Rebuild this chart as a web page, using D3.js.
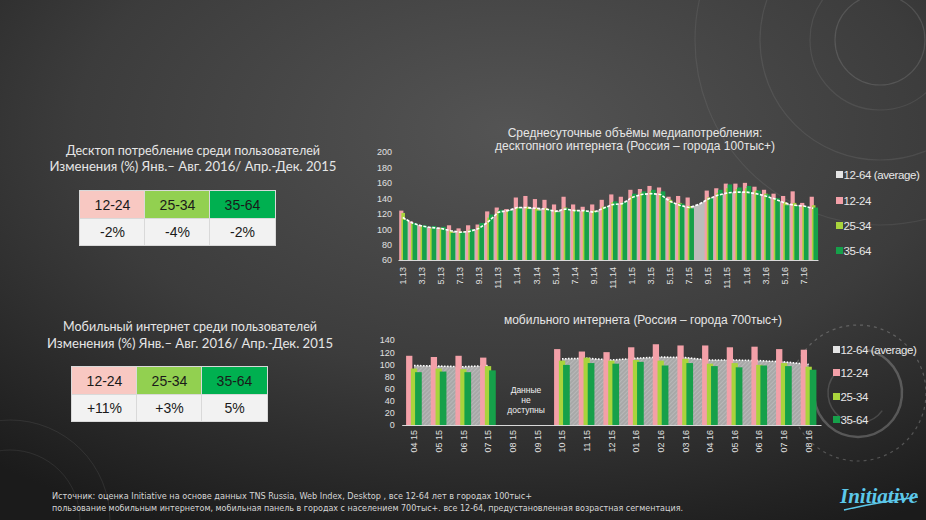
<!DOCTYPE html>
<html><head><meta charset="utf-8">
<script src="https://cdn.jsdelivr.net/npm/d3@7"></script>
<style>html,body{margin:0;padding:0;background:#2a2a2a;} svg{display:block}</style>
</head><body><svg id="c" width="926" height="520"></svg>
<script>
// ---------- DATA ----------
const desktopMonths = ["1.13","2.13","3.13","4.13","5.13","6.13","7.13","8.13","9.13","10.13","11.13","12.13",
  "1.14","2.14","3.14","4.14","5.14","6.14","7.14","8.14","9.14","10.14","11.14","12.14",
  "1.15","2.15","3.15","4.15","5.15","6.15","7.15","8.15","9.15","10.15","11.15","12.15",
  "1.16","2.16","3.16","4.16","5.16","6.16","7.16","8.16"];
const desktopTickLabels = ["1.13","3.13","5.13","7.13","9.13","11.13","1.14","3.14","5.14","7.14","9.14","11.14",
  "1.15","3.15","5.15","7.15","9.15","11.15","1.16","3.16","5.16","7.16"];
const desktopAvg  = [115,108,104,102,101,98,96,97,101,110,122,124,128,128,127,126,123,126,124,124,122,127,132,133,
  141,145,146,145,136,131,128,132,139,144,147,148,148,146,143,139,134,131,130,127];
const desktop1224 = [124,110,105,102,102,105,101,105,106,123,128,126,141,143,139,138,132,142,132,129,132,138,145,142,
  151,152,156,154,142,143,141,null,150,153,159,159,160,155,151,146,143,149,134,142];
const desktop2534 = [121,108,104,101,101,98,97,99,103,115,123,123,128,129,127,127,124,128,125,124,124,129,135,134,
  143,147,149,147,138,134,130,null,141,147,153,152,153,150,146,140,135,134,130,131];
const desktop3564 = [112,108,105,104,103,95,96,100,108,119,125,124,127,126,124,126,122,127,124,124,122,129,136,135,
  146,149,151,149,134,133,127,null,140,151,158,154,156,150,145,140,131,130,129,128];
const desktopYTicks = [60,80,100,120,140,160,180,200];

const mobileMonths = ["04 15","05 15","06 15","07 15","08 15","09 15","10 15","11 15","12 15",
  "01 16","02 16","03 16","04 16","05 16","06 16","07 16","08 16"];
const mobileAvg  = [98,97,96,98,null,null,109,110,107,110,112,111,107,107,106,104,100];
const mobile1224 = [114,112,114,111,null,null,125,121,120,128,133,131,131,128,129,125,124];
const mobile2534 = [93,93,92,97,null,null,106,111,106,107,106,109,101,102,99,102,96];
const mobile3564 = [87,88,87,90,null,null,99,102,101,104,98,102,97,95,98,97,91];
const mobileYTicks = [0,20,40,60,80,100,120,140];

const seriesNames = ["12-64 (average)","12-24","25-34","35-64"];
const tableHead = ["12-24","25-34","35-64"];
const desktopChange = ["-2%","-4%","-2%"];
const mobileChange = ["+11%","+3%","5%"];

// ---------- STYLE ----------
const C = {pink:"#f3a0a8", lg:"#a9d43c", green:"#16a04a", avg:"#bcbcbc", text:"#e8e8e8"};
const headFill = ["#f8c8c2","#92d050","#00b050"];

const svg = d3.select("#c");
const defs = svg.append("defs");
const bg = defs.append("radialGradient").attr("id","bg").attr("cx","0.55").attr("cy","0.25").attr("r","0.85");
bg.append("stop").attr("offset","0").attr("stop-color","#545454");
bg.append("stop").attr("offset","0.55").attr("stop-color","#3c3c3c");
bg.append("stop").attr("offset","1").attr("stop-color","#1b1b1b");
const hatch = defs.append("pattern").attr("id","hatch").attr("patternUnits","userSpaceOnUse")
  .attr("width",3).attr("height",3).attr("patternTransform","rotate(45)");
hatch.append("rect").attr("width",3).attr("height",3).attr("fill","#a8a8a8");
hatch.append("line").attr("x1",0).attr("y1",0).attr("x2",0).attr("y2",3).attr("stroke","#c4c4c4").attr("stroke-width",1.2);

svg.append("rect").attr("width",926).attr("height",520).attr("fill","url(#bg)");

// decorations
const deco = svg.append("g").attr("fill","none");
[[880,40,45,0.12],[880,40,70,0.08],[880,40,120,0.08],[880,40,185,0.07]].forEach(([cx,cy,r,o])=>
  deco.append("circle").attr("cx",cx).attr("cy",cy).attr("r",r).attr("stroke","#fff").attr("stroke-opacity",o).attr("stroke-width",1.2));
deco.append("circle").attr("cx",858).attr("cy",393).attr("r",68).attr("stroke","#fff").attr("stroke-opacity",0.22)
  .attr("stroke-dasharray","3,4").attr("stroke-width",1.2);
deco.append("path").attr("d",d3.arc()({innerRadius:44,outerRadius:44,startAngle:0.2,endAngle:4.6}))
  .attr("transform","translate(858,393)").attr("stroke","#fff").attr("stroke-opacity",0.22).attr("stroke-width",2.5);
deco.append("path").attr("d",d3.arc()({innerRadius:30,outerRadius:30,startAngle:2.2,endAngle:5.4}))
  .attr("transform","translate(858,393)").attr("stroke","#fff").attr("stroke-opacity",0.15).attr("stroke-width",1.5);
[[10,520,70],[10,520,100]].forEach(([cx,cy,r])=>
  deco.append("circle").attr("cx",cx).attr("cy",cy).attr("r",r).attr("stroke","#fff").attr("stroke-opacity",0.08));

const font = "'Liberation Sans', Arial, sans-serif";

// ---------- LEFT TEXT & TABLES ----------
function heading(lines, x, ys, widths){
  lines.forEach((t,i)=> svg.append("text").attr("x",x).attr("y",ys[i]).attr("text-anchor","middle")
    .attr("font-family","Lato, 'Open Sans', sans-serif").attr("font-size",13.5).attr("fill","#e6e6e6")
    .attr("textLength",widths[i]).attr("lengthAdjust","spacingAndGlyphs").text(t));
}
heading(["Десктоп потребление среди пользователей","Изменения (%)  Янв.– Авг. 2016/ Апр.-Дек. 2015"],193,[155,171],[254,287]);
heading(["Мобильный интернет среди пользователей","Изменения (%) Янв.– Авг. 2016/ Апр.-Дек. 2015"],190,[331,348],[254,286]);

function table(x0, y0, colW, rowH, vals){
  const g = svg.append("g");
  g.append("rect").attr("x",x0-1).attr("y",y0-1).attr("width",colW*3+2).attr("height",rowH*2+2).attr("fill","#d9d9d9");
  tableHead.forEach((h,i)=>{
    g.append("rect").attr("x",x0+i*colW).attr("y",y0).attr("width",colW-(i<2?1:0)).attr("height",rowH).attr("fill",headFill[i]);
    g.append("rect").attr("x",x0+i*colW).attr("y",y0+rowH+1).attr("width",colW-(i<2?1:0)).attr("height",rowH-1).attr("fill","#f2f2f2");
    g.append("text").attr("x",x0+i*colW+colW/2).attr("y",y0+rowH/2+5).attr("text-anchor","middle")
      .attr("font-family",font).attr("font-size",14).attr("fill","#1a1a1a").text(h);
    g.append("text").attr("x",x0+i*colW+colW/2).attr("y",y0+rowH*1.5+5).attr("text-anchor","middle")
      .attr("font-family",font).attr("font-size",14).attr("fill","#1a1a1a").text(vals[i]);
  });
}
table(80,191,65,27,desktopChange);
table(72,367,65,27,mobileChange);

// ---------- TOP CHART ----------
{
  const x = d3.scaleBand().domain(desktopMonths).range([398,818]);
  const y = d3.scaleLinear().domain([60,200]).range([260,152]);
  const bw = x.bandwidth();
  const g = svg.append("g");
  const pts = desktopMonths.map((m,i)=>({m, v:desktopAvg[i]}));
  g.append("path").datum(pts).attr("fill",C.avg)
    .attr("d",d3.area().x(d=>x(d.m)+bw/2).y0(y(60)).y1(d=>y(d.v)));
  const bars = [[desktop1224,C.pink,1.2,4.2],[desktop2534,C.lg,3.4,3.6],[desktop3564,C.green,5,4.6]];
  bars.forEach(([arr,col,off,w])=>{
    g.selectAll(null).data(desktopMonths.map((m,i)=>({m,v:arr[i]})).filter(d=>d.v!=null)).enter().append("rect")
      .attr("x",d=>x(d.m)+off*bw/9.545).attr("width",w*bw/9.545)
      .attr("y",d=>y(d.v)).attr("height",d=>y(60)-y(d.v)).attr("fill",col);
  });
  g.append("path").datum(pts).attr("fill","none").attr("stroke","#fff").attr("stroke-width",1.6)
    .attr("stroke-dasharray","3,1.5")
    .attr("d",d3.line().x(d=>x(d.m)+bw/2).y(d=>y(d.v)));
  const ya = g.append("g").attr("transform","translate(398,0)")
    .call(d3.axisLeft(y).tickValues(desktopYTicks).tickSize(0).tickPadding(6));
  ya.select(".domain").remove();
  ya.selectAll("text").attr("font-family",font).attr("font-size",9).attr("fill","#e0e0e0");
  const xa = g.append("g").attr("transform","translate(0,260)")
    .call(d3.axisBottom(x).tickValues(desktopTickLabels).tickSize(0).tickSizeOuter(0));
  xa.select(".domain").attr("stroke","#d9d9d9").attr("stroke-width",1.2);
  xa.selectAll("text").attr("font-family",font).attr("font-size",9).attr("fill","#e0e0e0")
    .attr("transform","rotate(-90)").attr("text-anchor","end").attr("x",-7).attr("y",0).attr("dy","0.35em");
  [["Среднесуточные объёмы медиапотребления:",137],["десктопного интернета  (Россия – города 100тыс+)",150]]
    .forEach(([t,yy])=> g.append("text").attr("x",635).attr("y",yy).attr("text-anchor","middle")
      .attr("font-family",font).attr("font-size",12).attr("fill","#e6e6e6").text(t));
  legend(836,[175,201,226,251]);
}

// ---------- BOTTOM CHART ----------
{
  const x = d3.scaleBand().domain(mobileMonths).range([401.7,821]);
  const y = d3.scaleLinear().domain([0,140]).range([425,340]);
  const bw = x.bandwidth();
  const g = svg.append("g");
  const pts = mobileMonths.map((m,i)=>({m, v:mobileAvg[i]}));
  g.append("path").datum(pts).attr("fill","url(#hatch)")
    .attr("d",d3.area().defined(d=>d.v!=null).x(d=>x(d.m)+bw/2).y0(y(0)).y1(d=>y(d.v)));
  g.append("path").datum(pts).attr("fill","none").attr("stroke","#fff").attr("stroke-width",1.6)
    .attr("stroke-dasharray","1.5,1.5")
    .attr("d",d3.line().defined(d=>d.v!=null).x(d=>x(d.m)+bw/2).y(d=>y(d.v)));
  const bars = [[mobile1224,C.pink,4.4,6.3],[mobile2534,C.lg,9.2,6.3],[mobile3564,C.green,13.4,6.7]];
  bars.forEach(([arr,col,off,w])=>{
    g.selectAll(null).data(mobileMonths.map((m,i)=>({m,v:arr[i]})).filter(d=>d.v!=null)).enter().append("rect")
      .attr("x",d=>x(d.m)+off*bw/24.7).attr("width",w*bw/24.7)
      .attr("y",d=>y(d.v)).attr("height",d=>y(0)-y(d.v)).attr("fill",col);
  });
  const ya = g.append("g").attr("transform","translate(401.7,0)")
    .call(d3.axisLeft(y).tickValues(mobileYTicks).tickSize(0).tickPadding(7));
  ya.select(".domain").remove();
  ya.selectAll("text").attr("font-family",font).attr("font-size",9).attr("fill","#e0e0e0");
  const xa = g.append("g").attr("transform","translate(0,425)")
    .call(d3.axisBottom(x).tickSize(0).tickSizeOuter(0));
  xa.select(".domain").attr("stroke","#d9d9d9").attr("stroke-width",1.2);
  xa.selectAll("text").attr("font-family",font).attr("font-size",9).attr("fill","#e0e0e0")
    .attr("transform","rotate(-90)").attr("text-anchor","end").attr("x",-5).attr("y",0).attr("dy","0.35em");
  g.append("text").attr("x",643).attr("y",324).attr("text-anchor","middle")
    .attr("font-family",font).attr("font-size",12).attr("fill","#e6e6e6").text("мобильного интернета  (Россия – города 700тыс+)");
  ["Данные","не","доступны"].forEach((t,i)=> g.append("text").attr("x",526).attr("y",393+i*10)
    .attr("text-anchor","middle").attr("font-family",font).attr("font-size",8.5).attr("fill","#f0f0f0").text(t));
  legend(833,[350,373,397,420]);
}

function legend(x0, ys){
  const cols = ["#e4e4e4",C.pink,C.lg,C.green];
  seriesNames.forEach((n,i)=>{
    svg.append("rect").attr("x",x0).attr("y",ys[i]-4).attr("width",7).attr("height",7).attr("fill",cols[i]);
    svg.append("text").attr("x",x0+7.5).attr("y",ys[i]+4).attr("font-family",font).attr("font-size",11.5)
      .attr("letter-spacing",-0.4).attr("fill","#e8e8e8").text(n);
  });
}

// ---------- FOOTER ----------
const foot = ["Источник: оценка Initiative на основе  данных TNS Russia, Web Index, Desktop , все 12-64 лет в городах 100тыс+",
  "пользование мобильным интернетом, мобильная панель в городах с населением 700тыс+. все 12-64, предустановленная возрастная сегментация."];
[[foot[0],499,480],[foot[1],511,631]].forEach(([t,yy,w])=> svg.append("text").attr("x",52).attr("y",yy)
  .attr("font-family","'Liberation Sans Narrow','DejaVu Sans Condensed',sans-serif").attr("font-size",9)
  .attr("fill","#d6d6d6").attr("textLength",w).attr("lengthAdjust","spacingAndGlyphs").text(t));

// logo
svg.append("text").attr("x",840).attr("y",503).attr("font-family","'Liberation Serif',serif").attr("font-style","italic")
  .attr("font-weight","bold").attr("font-size",21).attr("fill","#5cc8ea").text("Initiative");
svg.append("path").attr("d","M844,510 Q878,502 918,497").attr("fill","none").attr("stroke","#5cc8ea").attr("stroke-width",1.6);
</script></body></html>
